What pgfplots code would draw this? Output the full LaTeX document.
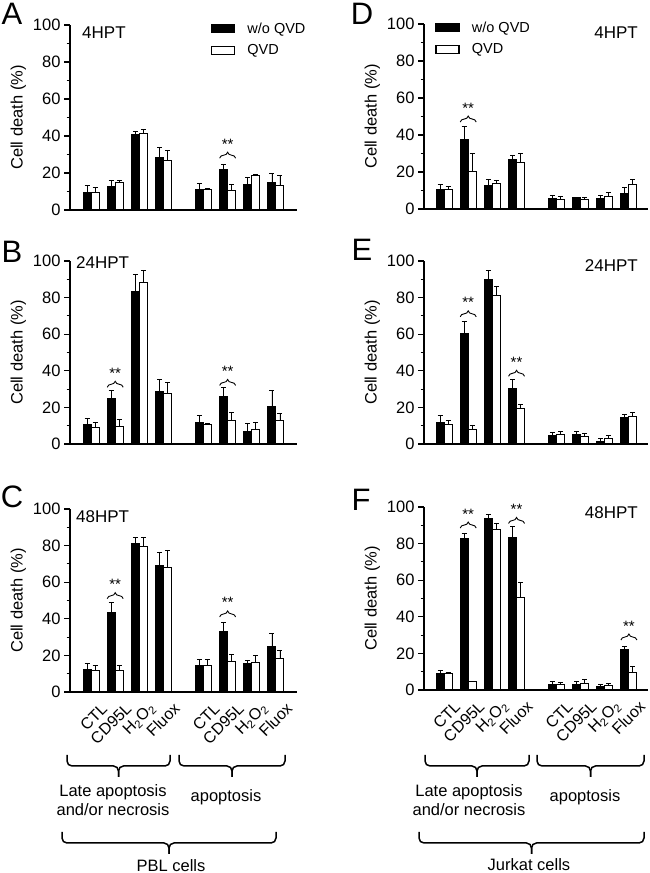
\documentclass[border=0pt]{standalone}
\usepackage{fontspec}
\setmainfont{Liberation Sans}
\usepackage{pgfplots}
\pgfplotsset{compat=1.18}
\usetikzlibrary{decorations.pathreplacing}
\newcommand{\fs}[1]{\fontsize{#1bp}{#1bp}\selectfont}
\pgfplotsset{
 panel/.style={
  scale only axis, anchor=south west,
  ymin=0, ymax=100, ytick={0,20,...,100}, minor y tick num=1,
  axis x line*=bottom, axis y line*=left, axis line style={line width=1.3bp, -},
  tick align=outside, major tick length=6bp, minor tick length=3.5bp,
  every tick/.style={line width=1.1bp, black},
  xtick={0,1,2,3,4.65,5.65,6.65,7.65}, xticklabels={},
  x tick style={draw=none},
  ylabel={Cell death (\%)},
  ybar, bar width=0.33, clip=false,
  tick label style={font=\fs{16.5}}, label style={font=\fs{16.5}},
  /pgf/number format/assume math mode=true,
  legend image code/.code={\draw[#1, line width=1.5bp] (0bp,-4bp) rectangle (23bp,4bp);},
  legend style={draw=none, fill=none, font=\fs{14.5}, row sep=6bp, inner sep=0pt, anchor=north west,
    /tikz/every odd column/.append style={column sep=10bp}},
  legend cell align=left,
 },
 blk/.style={fill=black, draw=black, line width=1bp, bar shift=-0.165,
   error bars/.cd, y dir=plus, y explicit, error bar style={line width=0.9bp, black},
   error mark options={rotate=90, mark size=2.5bp, line width=0.9bp, black}},
 wht/.style={fill=white, draw=black, line width=1bp, bar shift=0.165,
   error bars/.cd, y dir=plus, y explicit, error bar style={line width=0.9bp, black},
   error mark options={rotate=90, mark size=2.5bp, line width=0.9bp, black}},
 bottomlabels/.style={xticklabels={CTL,CD95L,H\textsubscript{2}O\textsubscript{2},Fluox,CTL,CD95L,H\textsubscript{2}O\textsubscript{2},Fluox},
   xticklabel style={rotate=45, anchor=east, font=\fs{16}, inner sep=1bp, xshift=5bp, yshift=-15bp}},
}
\newcommand{\sig}[2]{%
 \draw[line width=0.9bp, decorate, decoration={brace, amplitude=6bp}] ([xshift=-8bp]axis cs:#1,#2) -- ([xshift=8bp]axis cs:#1,#2);
 \node[font=\fs{15}, anchor=base, inner sep=0pt] at ([yshift=9bp]axis cs:#1,#2) {**};}
\newcommand{\bbrace}[5]{%
 \draw[line width=1.5bp, rounded corners=5bp] (#1bp,#3bp) -- (#1bp,#4bp) -- ({(#1+#2)/2*1bp},#4bp) -- ({(#1+#2)/2*1bp},#5bp);
 \draw[line width=1.5bp, rounded corners=5bp] (#2bp,#3bp) -- (#2bp,#4bp) -- ({(#1+#2)/2*1bp},#4bp) -- ({(#1+#2)/2*1bp},#5bp);}
\begin{document}
\begin{tikzpicture}
\path[use as bounding box] (0,0) rectangle (650bp,873bp);
% Panel A
\begin{axis}[panel, at={(70bp,663bp)}, width=227bp, height=185bp, xmin=-0.87, xmax=8.52,
  legend style={at={(0.62,1.025)}}]
\addplot[blk] coordinates {(0,9.4)+-(0,3.8) (1,12.9)+-(0,3.0) (2,40.8)+-(0,1.4) (3,28.5)+-(0,5.3) (4.65,11.0)+-(0,3.3) (5.65,22.1)+-(0,2.3) (6.65,14.0)+-(0,3.6) (7.65,14.6)+-(0,5.0)};
\addplot[wht] coordinates {(0,9.4)+-(0,2.6) (1,14.6)+-(0,1.5) (2,41.5)+-(0,2.2) (3,26.5)+-(0,5.5) (4.65,11.0)+-(0,0.8) (5.65,10.5)+-(0,3.2) (6.65,18.7)+-(0,0.4) (7.65,13.2)+-(0,5.3)};
\legend{w/o QVD, QVD}
\sig{5.65}{28}
\end{axis}
% Panel B
\begin{axis}[panel, at={(70bp,429bp)}, width=227bp, height=183bp, xmin=-0.87, xmax=8.52]
\addplot[blk] coordinates {(0,10.7)+-(0,3.3) (1,25.0)+-(0,4.1) (2,83.5)+-(0,9) (3,28.5)+-(0,6.5) (4.65,11.8)+-(0,3.9) (5.65,25.9)+-(0,5.1) (6.65,7.1)+-(0,4.2) (7.65,20.6)+-(0,8.5)};
\addplot[wht] coordinates {(0,9.1)+-(0,2.7) (1,9.7)+-(0,3.8) (2,88)+-(0,7) (3,27.5)+-(0,6) (4.65,10.4)+-(0,0.9) (5.65,12.9)+-(0,4.2) (6.65,7.7)+-(0,4.3) (7.65,13.1)+-(0,3.8)};
\sig{1}{31}
\sig{5.65}{32}
\end{axis}
% Panel C
\begin{axis}[panel, bottomlabels, at={(70bp,181bp)}, width=227bp, height=183bp, xmin=-0.87, xmax=8.52]
\addplot[blk] coordinates {(0,12.2)+-(0,3.6) (1,43.5)+-(0,5.5) (2,81)+-(0,3.2) (3,69)+-(0,7.3) (4.65,14.4)+-(0,3.6) (5.65,33.3)+-(0,4.7) (6.65,15.3)+-(0,1.8) (7.65,24.8)+-(0,7.1)};
\addplot[wht] coordinates {(0,11.8)+-(0,2.7) (1,11.5)+-(0,2.8) (2,79.3)+-(0,5) (3,68.3)+-(0,9) (4.65,14.4)+-(0,3.2) (5.65,16.6)+-(0,4) (6.65,16.2)+-(0,3.5) (7.65,18.4)+-(0,4.2)};
\sig{1}{51}
\sig{5.65}{41}
\end{axis}
% Panel D
\begin{axis}[panel, at={(424bp,664bp)}, width=224bp, height=185bp, xmin=-0.83, xmax=8.44,
  legend style={at={(0.05,1.025)}}]
\addplot[blk] coordinates {(0,10.5)+-(0,2.9) (1,37.3)+-(0,7.5) (2,12.7)+-(0,3.1) (3,26.6)+-(0,2.4) (4.65,5.5)+-(0,1.8) (5.65,6.0)+-(0,0.4) (6.65,5.8)+-(0,1.7) (7.65,8.6)+-(0,2.8)};
\addplot[wht] coordinates {(0,10.5)+-(0,1.8) (1,20)+-(0,10) (2,13.6)+-(0,2) (3,25.3)+-(0,4.7) (4.65,5.1)+-(0,1.6) (5.65,4.9)+-(0,1.3) (6.65,6.9)+-(0,1.9) (7.65,13.1)+-(0,2.7)};
\legend{w/o QVD, QVD}
\sig{1}{47}
\end{axis}
% Panel E
\begin{axis}[panel, at={(424bp,429bp)}, width=224bp, height=183bp, xmin=-0.83, xmax=8.44]
\addplot[blk] coordinates {(0,11.8)+-(0,3.7) (1,60.5)+-(0,6.3) (2,90)+-(0,4.7) (3,30.2)+-(0,4.8) (4.65,4.6)+-(0,1.8) (5.65,5.2)+-(0,1.6) (6.65,1.6)+-(0,1.3) (7.65,14.5)+-(0,1.5)};
\addplot[wht] coordinates {(0,10.4)+-(0,2.7) (1,7.8)+-(0,2.6) (2,81.4)+-(0,4.9) (3,19.2)+-(0,2.3) (4.65,5.0)+-(0,1.8) (5.65,4.2)+-(0,1.4) (6.65,2.8)+-(0,1.8) (7.65,15.2)+-(0,2.2)};
\sig{1}{69.5}
\sig{3}{37}
\end{axis}
% Panel F
\begin{axis}[panel, bottomlabels, at={(424bp,183bp)}, width=224bp, height=183bp, xmin=-0.83, xmax=8.44]
\addplot[blk] coordinates {(0,9.1)+-(0,1.8) (1,82.8)+-(0,2.6) (2,93.5)+-(0,2.5) (3,83.3)+-(0,6.2) (4.65,3.1)+-(0,1.8) (5.65,3.1)+-(0,1.5) (6.65,1.8)+-(0,1.3) (7.65,21.9)+-(0,2.1)};
\addplot[wht] coordinates {(0,8.8)+-(0,0.7) (1,4.5)+-(0,0.4) (2,87.5)+-(0,3.5) (3,50.5)+-(0,8.2) (4.65,3.2)+-(0,1) (5.65,3.6)+-(0,1.9) (6.65,2.7)+-(0,1.1) (7.65,9.7)+-(0,3.4)};
\sig{1}{88.5}
\sig{3}{91}
\sig{7.65}{27.3}
\end{axis}
% panel letters
\node[font=\fs{31}] at (12bp,859bp) {A};
\node[font=\fs{31}] at (12bp,621bp) {B};
\node[font=\fs{31}] at (12bp,376bp) {C};
\node[font=\fs{31}] at (362bp,859bp) {D};
\node[font=\fs{31}] at (362bp,623bp) {E};
\node[font=\fs{31}] at (361bp,373bp) {F};
% time labels
\node[font=\fs{17}, anchor=west, inner sep=0pt] at (82bp,840bp) {4HPT};
\node[font=\fs{17}, anchor=west, inner sep=0pt] at (76bp,610bp) {24HPT};
\node[font=\fs{17}, anchor=west, inner sep=0pt] at (76bp,356bp) {48HPT};
\node[font=\fs{17}, anchor=east, inner sep=0pt] at (638bp,840bp) {4HPT};
\node[font=\fs{17}, anchor=east, inner sep=0pt] at (638bp,607bp) {24HPT};
\node[font=\fs{17}, anchor=east, inner sep=0pt] at (638bp,360bp) {48HPT};
% bottom braces
\bbrace{67}{170}{118}{107}{96}
\bbrace{179}{285}{118}{107}{96}
\bbrace{62}{276}{41}{30}{19}
\bbrace{425}{529}{118}{107}{96}
\bbrace{537}{644}{118}{107}{96}
\bbrace{419}{644}{41}{30}{19}
\node[font=\fs{16.5}, align=center, inner sep=0pt] at (113bp,73bp) {Late apoptosis\\[2bp]and/or necrosis};
\node[font=\fs{16.5}, inner sep=0pt] at (226bp,76bp) {apoptosis};
\node[font=\fs{16.5}, align=center, inner sep=0pt] at (469bp,73bp) {Late apoptosis\\[2bp]and/or necrosis};
\node[font=\fs{16.5}, inner sep=0pt] at (585bp,76bp) {apoptosis};
\node[font=\fs{16.5}, anchor=base, inner sep=0pt] at (171bp,2bp) {PBL cells};
\node[font=\fs{16.5}, anchor=base, inner sep=0pt] at (529bp,3bp) {Jurkat cells};
\end{tikzpicture}
\end{document}
